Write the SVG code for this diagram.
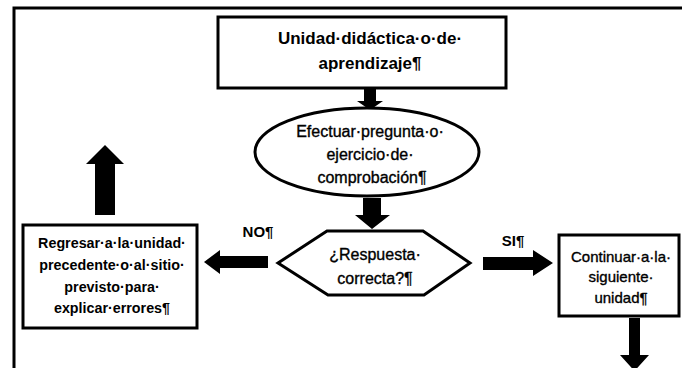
<svg xmlns="http://www.w3.org/2000/svg" width="682" height="368" viewBox="0 0 682 368">
<style>
.box{fill:#fff;stroke:#000;stroke-width:3}
.frame{fill:none;stroke:#000;stroke-width:3}
.arr{fill:#000;stroke:none}
text{font-family:"Liberation Sans",Arial,sans-serif;fill:#000;text-anchor:middle}
.b{font-weight:bold}
.m{stroke:#000;stroke-width:0.35}
</style>
<rect width="682" height="368" fill="#fff"/>
<rect class="frame" x="14" y="8" width="700" height="400"/>
<g id="connectors">
<polygon class="arr" points="364,88 376,88 376,101 383,101 370,110 357,101 364,101"/>
<polygon class="arr" points="363,198 381,198 381,215 390,215 372,229 355,215 363,215"/>
<polygon class="arr" points="268,256 268,268 220,268 220,274 204,262 220,250 220,256"/>
<polygon class="arr" points="483,257 533,257 533,250 553,263 533,276 533,270 483,270"/>
<polygon class="arr" points="95,215 115,215 115,164 124,164 105,145 86,164 95,164"/>
<polygon class="arr" points="629,318 640,318 640,355 649,355 634.5,371 620,355 629,355"/>
<text class="b" x="258" y="237" font-size="15">NO¶</text>
<text class="b" x="513" y="246" font-size="15">SI¶</text>
</g>
<g id="n-unidad">
<rect class="box" x="218" y="17" width="288" height="71"/>
<text class="b" x="370" y="44" font-size="17">Unidad·didáctica·o·de·</text>
<text class="b" x="370" y="69" font-size="17">aprendizaje¶</text>
</g>
<g id="n-efectuar">
<ellipse class="box" cx="367" cy="152" rx="112" ry="44"/>
<text class="m" x="370" y="137" font-size="16">Efectuar·pregunta·o·</text>
<text class="m" x="370" y="160" font-size="16">ejercicio·de·</text>
<text class="m" x="372" y="183" font-size="16">comprobación¶</text>
</g>
<g id="n-respuesta">
<polygon class="box" points="278,263 327,231 423,231 470,263 424,295 328,295"/>
<text class="m" x="375" y="260" font-size="16">¿Respuesta·</text>
<text class="m" x="375" y="284" font-size="16">correcta?¶</text>
</g>
<g id="n-regresar">
<rect class="box" x="23" y="225" width="174" height="103"/>
<text class="b" x="112" y="248" font-size="14.3">Regresar·a·la·unidad·</text>
<text class="b" x="112" y="270" font-size="14.3">precedente·o·al·sitio·</text>
<text class="b" x="112" y="292" font-size="14.3">previsto·para·</text>
<text class="b" x="112" y="313" font-size="14.3">explicar·errores¶</text>
</g>
<g id="n-continuar">
<rect class="box" x="559" y="235" width="120" height="81"/>
<text class="m" x="621" y="262" font-size="15">Continuar·a·la·</text>
<text class="m" x="621" y="282" font-size="15">siguiente·</text>
<text class="m" x="621" y="303" font-size="15">unidad¶</text>
</g>
</svg>
